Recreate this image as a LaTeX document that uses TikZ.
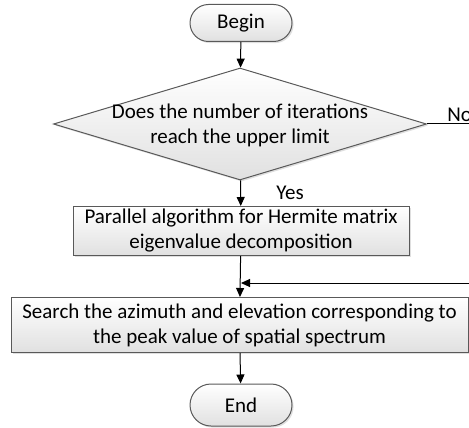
\documentclass[tikz,border=0pt]{standalone}
\usepackage{fontspec}
\setmainfont{Carlito}
\usetikzlibrary{arrows.meta,shapes.geometric,shapes.misc,shadows}
\tikzset{
  boxbase/.style={draw=black!65, line width=0.5pt, top color=white, bottom color=black!12,
    drop shadow={opacity=0.25, shadow xshift=0.8pt, shadow yshift=-0.8pt}},
  terminal/.style={boxbase, rounded rectangle, inner sep=0pt, minimum width=51pt, minimum height=18.5pt},
  process/.style={boxbase, rectangle, align=center, inner sep=0pt},
  decision/.style={boxbase, diamond, inner sep=0pt, minimum width=186.5pt, minimum height=56pt},
  flow/.style={-{Triangle[length=4.5pt,width=4pt]}, line width=0.5pt},
  line/.style={line width=0.5pt},
}
\begin{document}
\begin{tikzpicture}[x=0.5pt, y=-0.5pt, every node/.style={font=\fontsize{10.5}{12.5}\selectfont}]
  \useasboundingbox (0,0) rectangle (469,427);
  \clip (0,0) rectangle (469,427);
  % flow chart nodes
  \node[terminal] (begin) at (241,23) {Begin};
  \node[decision] (cond) at (240,124) {};
  \node[align=center, inner sep=0pt] (condtxt) at (240,125) {Does the number of iterations\\reach the upper limit};
  \node[process, minimum width=168pt, minimum height=24.5pt] (para) at (241,231)
    {Parallel algorithm for Hermite matrix\\eigenvalue decomposition};
  \node[process, minimum width=228.5pt, minimum height=27.5pt] (search) at (239.5,325)
    {Search the azimuth and elevation corresponding to\\the peak value of spatial spectrum};
  \node[terminal, minimum height=21pt] (end) at (241,405) {End};
  % free ends and junction
  \coordinate (noout) at (472,124);
  \coordinate (retin) at (472,283);
  \coordinate (join) at (241,283);
  % connectors
  \draw[flow] (begin) -- (cond);
  \draw[flow] (cond) -- (para);
  \draw[flow] (para) -- (search);
  \draw[flow] (search) -- (end);
  \draw[line] (cond.east) -- (noout);
  \draw[flow] (retin) -- (join);
  % branch labels
  \node[anchor=base west, inner sep=0pt] (nolbl) at (447,121) {No};
  \node[anchor=base west, inner sep=0pt] (yeslbl) at (276,199) {Yes};
\end{tikzpicture}
\end{document}
